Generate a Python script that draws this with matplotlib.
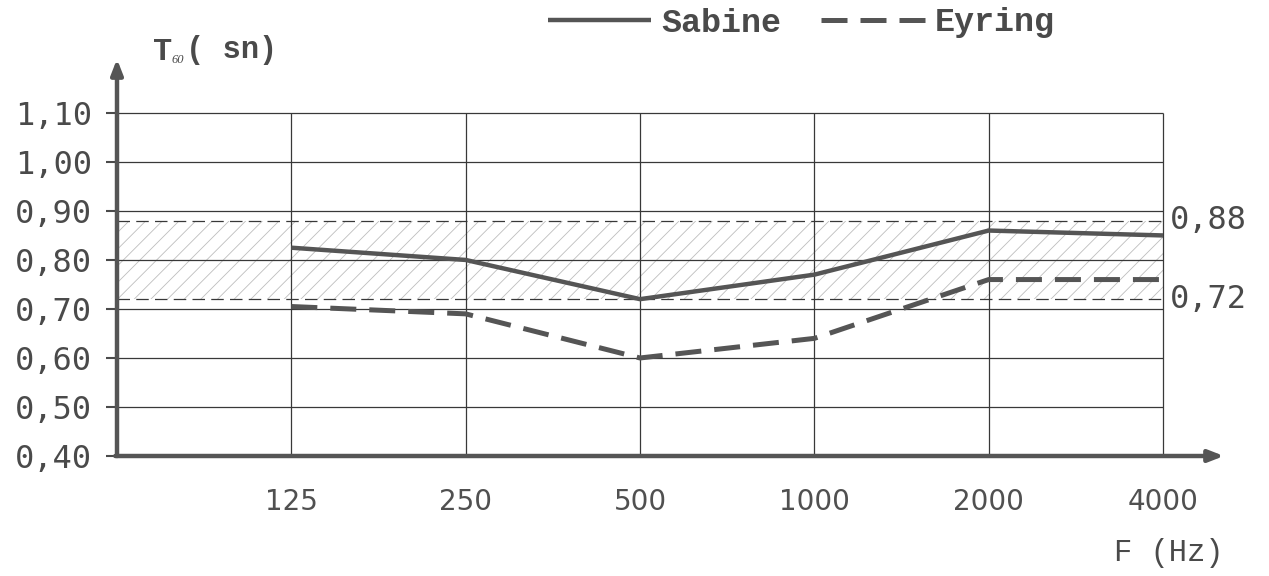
import matplotlib
matplotlib.use("Agg")
import matplotlib.pyplot as plt
from matplotlib.font_manager import FontProperties

# ---- data ----
freq_labels = ["125", "250", "500", "1000", "2000", "4000"]
sabine = [0.825, 0.80, 0.72, 0.77, 0.86, 0.85]
eyring = [0.705, 0.69, 0.60, 0.64, 0.76, 0.76]
band_low, band_high = 0.72, 0.88
y_ticks = [0.40, 0.50, 0.60, 0.70, 0.80, 0.90, 1.00, 1.10]
y_tick_labels = ["0,40", "0,50", "0,60", "0,70", "0,80", "0,90", "1,00", "1,10"]

W, H = 1269, 576
fig = plt.figure(figsize=(W / 100, H / 100), dpi=100)
fig.patch.set_facecolor("white")

def fx(px):
    return px / W

def fy(py):
    return 1 - py / H

plt.rcParams["hatch.linewidth"] = 0.6

ax = fig.add_axes([fx(117), fy(456), fx(1224) - fx(117), (456 - 59) / H])
x = list(range(1, len(freq_labels) + 1))
ax.set_xlim(0, 6.35)
ax.set_ylim(0.40, 1.21)
for s in ax.spines.values():
    s.set_visible(False)

ink = "#4a4a4a"
grid_c = "#383838"

# grid
ax.hlines(y_ticks[1:], 0, x[-1], color=grid_c, lw=0.9, zorder=1)
ax.vlines(x, y_ticks[0], y_ticks[-1], color=grid_c, lw=0.9, zorder=1)

# hatched band
ax.fill_between([0, x[-1]], band_low, band_high, facecolor="none",
                edgecolor="#bdbdbd", hatch="//", linewidth=0, zorder=0)
for v in (band_low, band_high):
    ax.plot([0, x[-1]], [v, v], color=grid_c, lw=0.9, dashes=(10, 5), zorder=2)
    ax.annotate(f"{v:.2f}".replace(".", ","), xy=(x[-1], v), xytext=(5, 0),
                textcoords="offset points", va="center", ha="left",
                fontsize=23, family="DejaVu Sans Mono", color=ink,
                annotation_clip=False)

# series
l_sab, = ax.plot(x, sabine, color="#555555", lw=3.2, solid_capstyle="butt",
                 zorder=4, label="Sabine")
l_eyr, = ax.plot(x, eyring, color="#555555", lw=3.6, dashes=(5.2, 2.6),
                 zorder=4, label="Eyring")

# axes arrows
arrow_kw = dict(arrowstyle="-|>,head_length=0.9,head_width=0.35", lw=3.2,
                color="#555555", shrinkA=0, shrinkB=0)
ax.annotate("", xy=(0, 1.21), xytext=(0, 0.40), arrowprops=arrow_kw,
            annotation_clip=False)
ax.annotate("", xy=(6.35, 0.40), xytext=(-0.01, 0.40), arrowprops=arrow_kw,
            annotation_clip=False)

# ticks
ax.set_xticks(x)
ax.set_xticklabels(freq_labels, fontsize=20, family="DejaVu Sans", color="#505050")
ax.tick_params(axis="x", length=0, pad=23)
ax.set_yticks(y_ticks)
ax.set_yticklabels(y_tick_labels, fontsize=23, family="DejaVu Sans Mono", color=ink)
ax.tick_params(axis="y", length=8, width=1.5, color=ink, pad=10)

# legend
leg_font = FontProperties(family="Liberation Mono", weight="bold", size=24)
ax.legend(handles=[l_sab, l_eyr], labels=["Sabine", "Eyring"], ncol=2,
          loc="center left", bbox_to_anchor=(fx(548), fy(23)),
          bbox_transform=fig.transFigure, frameon=False, borderpad=0,
          borderaxespad=0, handlelength=3.1, handletextpad=0.3,
          columnspacing=1.2, prop=leg_font, labelcolor=ink)

# axis titles
fig.text(fx(153), fy(52), "T", fontsize=23, family="Liberation Mono",
         weight="bold", color=ink, va="center", ha="left")
fig.text(fx(172), fy(60), "60", fontsize=9, family="Liberation Serif",
         style="italic", color=ink, va="center", ha="left")
fig.text(fx(186), fy(50), "( sn)", fontsize=22, family="Liberation Mono",
         weight="bold", color=ink, va="center", ha="left")
fig.text(fx(1114), fy(553), "F (Hz)", fontsize=22, family="Liberation Mono",
         color=ink, va="center", ha="left")

fig.savefig("out.png", dpi=100, facecolor="white")
